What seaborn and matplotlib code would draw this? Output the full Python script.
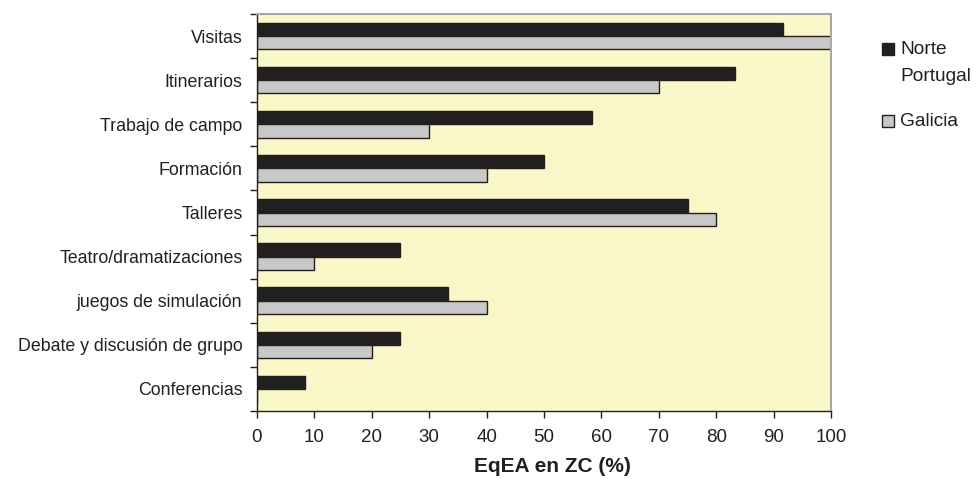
import matplotlib
matplotlib.use("Agg")
import matplotlib.pyplot as plt
from matplotlib.patches import Rectangle
import numpy as np
import pandas as pd
import seaborn as sns

categories = [
    "Visitas",
    "Itinerarios",
    "Trabajo de campo",
    "Formación",
    "Talleres",
    "Teatro/dramatizaciones",
    "juegos de simulación",
    "Debate y discusión de grupo",
    "Conferencias",
]
norte_portugal = [91.7, 83.3, 58.3, 50.0, 75.0, 25.0, 33.3, 25.0, 8.3]
galicia = [100, 70, 30, 40, 80, 10, 40, 20, 0]
series_names = ["Norte Portugal", "Galicia"]
x_ticks = [0, 10, 20, 30, 40, 50, 60, 70, 80, 90, 100]

df = pd.DataFrame({
    "categoria": categories * 2,
    "serie": [series_names[0]] * len(categories) + [series_names[1]] * len(categories),
    "valor": norte_portugal + galicia,
})

sns.set_theme(style="white")
plt.rcParams["font.family"] = ["Liberation Sans", "DejaVu Sans"]

ink = "#231f20"
colors = {"Norte Portugal": "#231f20", "Galicia": "#c8c8c8"}

W, H = 979, 479
fig = plt.figure(figsize=(W / 100, H / 100), dpi=100)
ax = fig.add_axes([257 / W, 1 - 411 / H, (831 - 257) / W, (411 - 14) / H])
ax.set_facecolor("#faf7c8")

sns.barplot(
    data=df, y="categoria", x="valor", hue="serie", order=categories,
    hue_order=series_names, palette=colors, orient="h", width=0.6,
    edgecolor=ink, linewidth=1.0, legend=False, ax=ax,
)

ax.set_xlim(0, 100)
ax.set_ylim(len(categories) - 0.5, -0.5)
ax.set_xticks(x_ticks)
ax.set_xticklabels([str(t) for t in x_ticks], fontsize=13.5, color=ink)
ax.set_yticks(range(len(categories)))
ax.set_yticklabels(categories, fontsize=12.8, color=ink)
ax.set_yticks(np.arange(-0.5, len(categories)), minor=True)
ax.tick_params(axis="y", which="major", length=0, pad=10.5)
ax.tick_params(axis="y", which="minor", length=5, width=1, color=ink,
               direction="out", left=True)
ax.tick_params(axis="x", which="major", length=5, width=1, color=ink,
               direction="out", bottom=True, pad=8)
ax.set_ylabel("")
ax.set_xlabel("EqEA en ZC (%)", fontsize=15, fontweight="bold",
              color=ink, labelpad=7)
ax.xaxis.set_label_coords(0.514, -0.115)

for side in ("left", "bottom"):
    ax.spines[side].set_color(ink)
    ax.spines[side].set_linewidth(1.0)
for side in ("top", "right"):
    ax.spines[side].set_color("#a8a8a8")
    ax.spines[side].set_linewidth(1.5)
ax.grid(False)

# Legend beside the plot: square swatches with the series names
def px(x, y):
    return x / W, 1 - y / H

legend_rows = [
    (colors["Norte Portugal"], ["Norte", "Portugal"], 49),
    (colors["Galicia"], ["Galicia"], 121),
]
for face, lines, yc in legend_rows:
    x0, y0 = px(882, yc + 6)
    fig.patches.append(Rectangle((x0, y0), 12 / W, 12 / H, transform=fig.transFigure,
                                 facecolor=face, edgecolor=ink, linewidth=1.0))
    for i, line in enumerate(lines):
        tx, ty = px(900, yc + 27 * i)
        fig.text(tx, ty, line, fontsize=13.8, color=ink, va="center", ha="left")

fig.savefig("out.png", dpi=100, facecolor="white")
